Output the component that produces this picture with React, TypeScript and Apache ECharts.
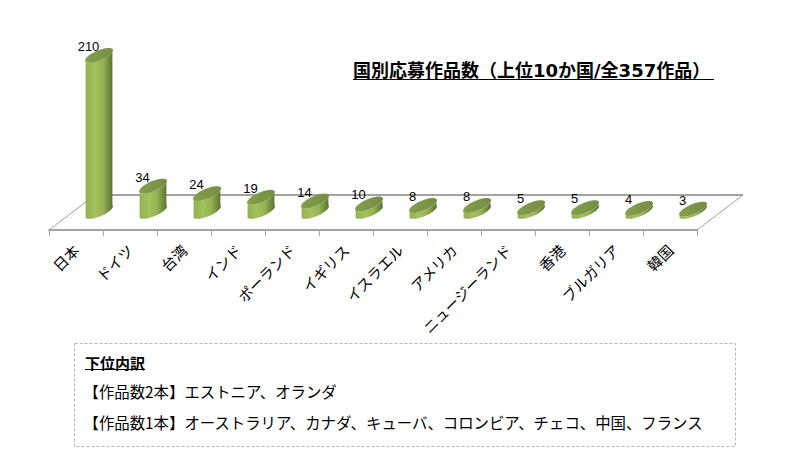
import React, { useEffect, useRef } from "react";
import * as echarts from "echarts";

const categories = ["日本", "ドイツ", "台湾", "インド", "ポーランド", "イギリス", "イスラエル", "アメリカ", "ニュージーランド", "香港", "ブルガリア", "韓国"];
const values = [210, 34, 24, 19, 14, 10, 8, 8, 5, 5, 4, 3];
const chartTitle = "国別応募作品数（上位10か国/全357作品）";
const noteHeading = "下位内訳";
const noteLines = ["【作品数2本】エストニア、オランダ", "【作品数1本】オーストラリア、カナダ、キューバ、コロンビア、チェコ、中国、フランス"];

const JP = '"Noto Sans CJK JP", sans-serif';
const MIXED = '"DejaVu Sans", "Noto Sans CJK JP", sans-serif';
const A = 15, B = 5, ANGLE = (23 * Math.PI) / 180, OFFSET_X = 23;
const ellPts = (cx: number, cy: number, from: number, to: number, n = 28) => {
  const out: number[][] = [];
  for (let i = 0; i <= n; i++) {
    const t = from + ((to - from) * i) / n;
    const x = A * Math.cos(t), y = B * Math.sin(t);
    out.push([cx + x * Math.cos(ANGLE) + y * Math.sin(ANGLE), cy - x * Math.sin(ANGLE) + y * Math.cos(ANGLE)]);
  }
  return out;
};
const tangent = Math.atan2(B * Math.sin(ANGLE), A * Math.cos(ANGLE));

export default function App() {
  const ref = useRef<HTMLDivElement>(null);
  useEffect(() => {
    const chart = echarts.init(ref.current!, null, { renderer: "svg" });
    const bodyFill = new echarts.graphic.LinearGradient(0, 0, 1, 0, [
      { offset: 0, color: "#93b151" },
      { offset: 0.35, color: "#a2c25c" },
      { offset: 0.65, color: "#93b151" },
      { offset: 1, color: "#5b7031" },
    ]);
    const topFill = new echarts.graphic.LinearGradient(0, 0, 1, 0, [
      { offset: 0, color: "#83a04b" },
      { offset: 1, color: "#758d44" },
    ]);
    chart.setOption({
      animation: false,
      backgroundColor: "#fff",
      grid: { left: 49, right: 98, top: 25.7, bottom: 220 },
      xAxis: {
        type: "category",
        data: categories,
        boundaryGap: true,
        axisLine: { onZero: false, lineStyle: { color: "#a3a3a3", width: 2 } },
        axisTick: { show: true, length: 6, lineStyle: { color: "#a3a3a3" } },
        axisLabel: { interval: 0, rotate: 45, fontFamily: JP, fontSize: 14.7, color: "#000", margin: 17 },
      },
      yAxis: { type: "value", min: -25, max: 250, show: false, splitLine: { show: false } },
      series: [
        {
          type: "custom",
          data: values.map((v, i) => [i, v]),
          clip: false,
          z: 5,
          renderItem: (_: any, api: any) => {
            const [bx0, y0] = api.coord([api.value(0), 0]);
            const cx = bx0 + OFFSET_X;
            const y1 = api.coord([api.value(0), api.value(1)])[1];
            const lower = ellPts(cx, y0, -tangent, Math.PI - tangent);
            const upper = ellPts(cx, y1, Math.PI - tangent, -tangent);
            return {
              type: "group",
              children: [
                { type: "polygon", shape: { points: [...lower, ...upper] }, style: { fill: bodyFill } },
                { type: "polygon", shape: { points: ellPts(cx, y1, 0, Math.PI * 2, 48) }, style: { fill: topFill } },
                {
                  type: "text",
                  x: cx - 10.5,
                  y: y1 - 9,
                  style: { text: String(api.value(1)), fontFamily: '"Liberation Sans", sans-serif', fontSize: 13, fill: "#000", align: "center", verticalAlign: "middle" },
                },
              ],
            };
          },
        },
      ],
      graphic: [
        { type: "polyline", z: 1, shape: { points: [[49, 230], [95, 195]] }, style: { stroke: "#a3a3a3", lineWidth: 1, fill: "none" } },
        { type: "line", z: 1, shape: { x1: 95, y1: 195, x2: 743, y2: 195 }, style: { stroke: "#a3a3a3", lineWidth: 2 } },
        { type: "line", z: 1, shape: { x1: 743, y1: 195, x2: 697, y2: 230 }, style: { stroke: "#a3a3a3", lineWidth: 1 } },
        { type: "text", x: 353, y: 70, style: { text: chartTitle, fontFamily: MIXED, fontWeight: "bold", fontSize: 18, fill: "#000", verticalAlign: "middle" } },
        { type: "line", shape: { x1: 353, y1: 79.5, x2: 714, y2: 79.5 }, style: { stroke: "#000", lineWidth: 1 } },
        { type: "rect", shape: { x: 74.5, y: 343.5, width: 661, height: 103 }, style: { fill: "none", stroke: "#b5b5b5", lineWidth: 1, lineDash: [3, 2] } },
        { type: "text", x: 85, y: 362, style: { text: noteHeading, fontFamily: JP, fontWeight: "bold", fontSize: 15, fill: "#000", verticalAlign: "middle" } },
        { type: "line", shape: { x1: 85, y1: 369.5, x2: 145, y2: 369.5 }, style: { stroke: "#000", lineWidth: 1 } },
        { type: "text", x: 83.5, y: 391, style: { text: noteLines[0], fontFamily: JP, fontSize: 15.4, fill: "#000", verticalAlign: "middle" } },
        { type: "text", x: 83.5, y: 422, style: { text: noteLines[1], fontFamily: JP, fontSize: 15.4, fill: "#000", verticalAlign: "middle" } },
      ],
    });
    return () => chart.dispose();
  }, []);
  return <div ref={ref} style={{ position: "absolute", left: 0, top: 0, width: 795, height: 450 }} />;
}
